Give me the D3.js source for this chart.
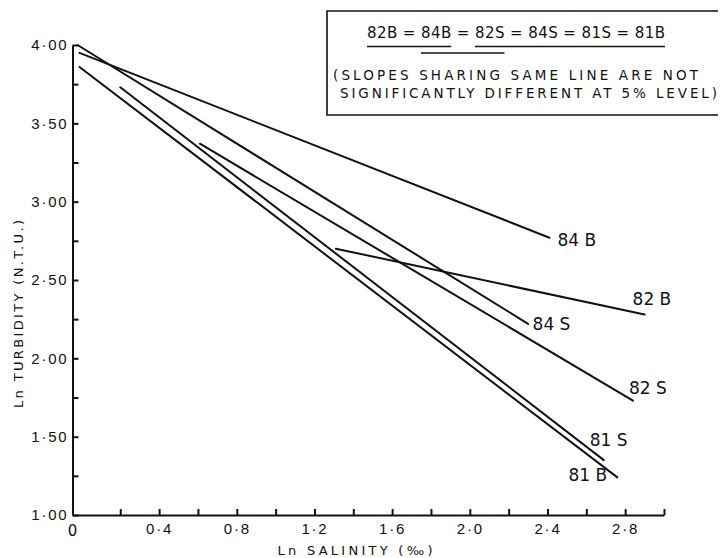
<!DOCTYPE html>
<html>
<head>
<meta charset="utf-8">
<script src="https://cdn.jsdelivr.net/npm/d3@7"></script>
<style>
  body { margin: 0; background: #fff; }
  svg { display: block; font-family: "DejaVu Sans", sans-serif; }
  .axis path, .axis line { stroke: #111; stroke-width: 2; }
  .axis text { fill: #111; font-size: 15px; letter-spacing: 1.8px; }
</style>
</head>
<body>
<div id="chart"></div>
<script>
var W = 725, H = 558;
var margin = {top: 45, right: 61, bottom: 43, left: 72.5};

// data (ln salinity, ln turbidity)
var series  = ["84B", "84S", "82S", "82B", "81S", "81B"];
var labels  = ["84 B", "84 S", "82 S", "82 B", "81 S", "81 B"];
var startX  = [-0.01, -0.02, 0.61, 1.31, 0.20, -0.01];
var startY  = [3.95, 4.00, 3.37, 2.70, 3.73, 3.86];
var endX    = [2.41, 2.30, 2.84, 2.90, 2.69, 2.76];
var endY    = [2.77, 2.22, 1.73, 2.28, 1.35, 1.24];

var xTicks = [0.2, 0.4, 0.6, 0.8, 1.0, 1.2, 1.4, 1.6, 1.8, 2.0, 2.2, 2.4, 2.6, 2.8, 3.0];
var xLabelTicks = [0.4, 0.8, 1.2, 1.6, 2.0, 2.4, 2.8];
var yTicks = [1.00, 1.25, 1.50, 1.75, 2.00, 2.25, 2.50, 2.75, 3.00, 3.25, 3.50, 3.75, 4.00];
var yLabelTicks = [1.00, 1.50, 2.00, 2.50, 3.00, 3.50, 4.00];

var legendLine1 = "82B = 84B = 82S = 84S = 81S = 81B";
var legendLine2 = "(SLOPES  SHARING  SAME  LINE  ARE  NOT";
var legendLine3 = "SIGNIFICANTLY  DIFFERENT  AT  5% LEVEL)";
// [first char, last char, level] of the underlines in legendLine1
var underlines = [[0, 8, 0], [6, 14, 1], [12, 32, 0]];

// where each end label sits relative to the line end (px)
var labelOffsets = [[8, 8.5], [4.5, 6.5], [-4, -7], [-12, -9], [-14, -14], [-49, 4]];

var svg = d3.select("#chart").append("svg")
  .attr("width", W).attr("height", H);

var x = d3.scaleLinear().domain([-0.046, 3.0]).range([margin.left, W - margin.right]);
var y = d3.scaleLinear().domain([1, 4]).range([H - margin.bottom, margin.top]);

var dot = function(s){ return s.replace(".", "\u00b7"); };

// axes, ticks pointing inwards
var xAxis = d3.axisBottom(x).tickValues(xTicks)
  .tickSizeInner(-6).tickSizeOuter(0).tickPadding(8)
  .tickFormat(function(d){
    return xLabelTicks.some(function(v){ return Math.abs(v - d) < 1e-6; }) ? dot(d3.format(".1f")(d)) : "";
  });
svg.append("g").attr("class", "axis")
  .attr("transform", "translate(0," + y(1) + ")")
  .call(xAxis);

svg.append("text")
  .attr("x", x.range()[0]).attr("y", y(1) + 21)
  .attr("text-anchor", "middle").attr("font-size", 15).attr("fill", "#111")
  .text("0");

var yAxis = d3.axisLeft(y).tickValues(yTicks)
  .tickSizeInner(-6).tickSizeOuter(0).tickPadding(4)
  .tickFormat(function(d){
    return yLabelTicks.some(function(v){ return Math.abs(v - d) < 1e-6; }) ? dot(d3.format(".2f")(d)) : "";
  });
svg.append("g").attr("class", "axis")
  .attr("transform", "translate(" + x.range()[0] + ",0)")
  .call(yAxis);

// axis titles
svg.append("text")
  .attr("x", 355).attr("y", 555)
  .attr("text-anchor", "middle").attr("font-size", 13).attr("fill", "#111")
  .attr("textLength", 155).attr("lengthAdjust", "spacing")
  .text("Ln SALINITY  (\u2030)");

svg.append("text")
  .attr("transform", "translate(23,314) rotate(-90)")
  .attr("text-anchor", "middle").attr("font-size", 13).attr("fill", "#111")
  .attr("textLength", 188).attr("lengthAdjust", "spacing")
  .text("Ln TURBIDITY  (N.T.U.)");

// regression lines
var idx = d3.range(series.length);
svg.append("g").selectAll("line").data(idx).enter().append("line")
  .attr("x1", function(i){ return x(startX[i]); })
  .attr("y1", function(i){ return y(startY[i]); })
  .attr("x2", function(i){ return x(endX[i]); })
  .attr("y2", function(i){ return y(endY[i]); })
  .attr("stroke", "#111").attr("stroke-width", 2).attr("stroke-linecap", "round");

svg.append("g").selectAll("text").data(idx).enter().append("text")
  .attr("x", function(i){ return x(endX[i]) + labelOffsets[i][0]; })
  .attr("y", function(i){ return y(endY[i]) + labelOffsets[i][1]; })
  .attr("font-size", 17).attr("fill", "#111")
  .text(function(i){ return labels[i]; });

// legend box (right side runs off the page)
var box = {x0: 327, x1: 718, y0: 11, y1: 115};
svg.append("path")
  .attr("d", "M" + box.x1 + "," + box.y0 + "H" + box.x0 + "V" + box.y1 + "H" + box.x1)
  .attr("fill", "none").attr("stroke", "#111").attr("stroke-width", 1.6);

var l1 = svg.append("text")
  .attr("x", 367).attr("y", 38)
  .attr("font-size", 15).attr("fill", "#111")
  .attr("textLength", 298).attr("lengthAdjust", "spacing")
  .text(legendLine1);

svg.append("text")
  .attr("x", 333).attr("y", 80)
  .attr("font-size", 13.5).attr("fill", "#111")
  .attr("textLength", 365).attr("lengthAdjust", "spacing")
  .text(legendLine2);

svg.append("text")
  .attr("x", 340).attr("y", 98)
  .attr("font-size", 13.5).attr("fill", "#111")
  .attr("textLength", 377).attr("lengthAdjust", "spacing")
  .text(legendLine3);

var node = l1.node();
underlines.forEach(function(u){
  var a = node.getExtentOfChar(u[0]);
  var b = node.getExtentOfChar(u[1]);
  var yy = 46.5 + u[2] * 6.5;
  svg.append("line")
    .attr("x1", a.x).attr("x2", b.x + b.width)
    .attr("y1", yy).attr("y2", yy)
    .attr("stroke", "#111").attr("stroke-width", 1.4);
});
</script>
</body>
</html>
